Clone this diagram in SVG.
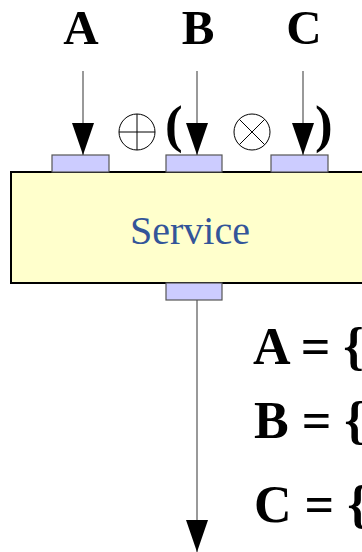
<svg xmlns="http://www.w3.org/2000/svg" width="362" height="552" viewBox="0 0 362 552">
<style>
.lbl{font-family:"Liberation Serif","Times New Roman",serif;font-weight:bold;font-size:52px;fill:#000}
.top{font-size:49px}
.par{font-size:53px}
.port{fill:#ccccff;stroke:#555;stroke-width:1.2}
.wire{stroke:#555;stroke-width:1.2;fill:none}
.op{fill:none;stroke:#000;stroke-width:1}
</style>
<defs>
<marker id="ah" markerUnits="userSpaceOnUse" markerWidth="32" markerHeight="22" refX="32" refY="11" orient="auto" viewBox="0 0 32 22">
<path d="M0,0 L32,11 L0,22 Z" fill="#000"/>
</marker>
</defs>
<rect width="362" height="552" fill="#fff"/>
<g id="service">
<rect x="11" y="172" width="360" height="111" fill="#ffffcc" stroke="#000" stroke-width="2"/>
<text x="190" y="244" text-anchor="middle" font-family="Liberation Serif,Times New Roman,serif" font-size="40" fill="#335599">Service</text>
</g>
<g id="portA"><rect class="port" x="52" y="155" width="57" height="17"/></g>
<g id="portB"><rect class="port" x="166" y="155" width="56" height="17"/></g>
<g id="portC"><rect class="port" x="271" y="155" width="57" height="17"/></g>
<g id="portOut"><rect class="port" x="166" y="283" width="56" height="17"/></g>
<g id="labels">
<text class="lbl top" x="81" y="44" text-anchor="middle">A</text>
<text class="lbl top" x="198" y="44" text-anchor="middle">B</text>
<text class="lbl top" x="304" y="44" text-anchor="middle">C</text>
<text class="lbl par" x="165" y="142">(</text>
<text class="lbl par" x="315" y="142">)</text>
</g>
<g id="operators">
<circle class="op" cx="137" cy="132" r="18"/>
<line class="op" x1="119" y1="132" x2="155" y2="132"/>
<line class="op" x1="137" y1="114" x2="137" y2="150"/>
<circle class="op" cx="252" cy="132" r="18"/>
<line class="op" x1="239.3" y1="119.3" x2="264.7" y2="144.7"/>
<line class="op" x1="264.7" y1="119.3" x2="239.3" y2="144.7"/>
</g>
<g id="connectors">
<line class="wire" x1="83" y1="71" x2="83" y2="155" marker-end="url(#ah)"/>
<line class="wire" x1="197" y1="71" x2="197" y2="155" marker-end="url(#ah)"/>
<line class="wire" x1="303" y1="71" x2="303" y2="155" marker-end="url(#ah)"/>
<line class="wire" x1="197" y1="300" x2="197" y2="552" marker-end="url(#ah)"/>
</g>
<g id="equations">
<text class="lbl" x="253" y="364">A = {</text>
<text class="lbl" x="254" y="438">B = {</text>
<text class="lbl" x="254" y="522">C = {</text>
</g>
</svg>
